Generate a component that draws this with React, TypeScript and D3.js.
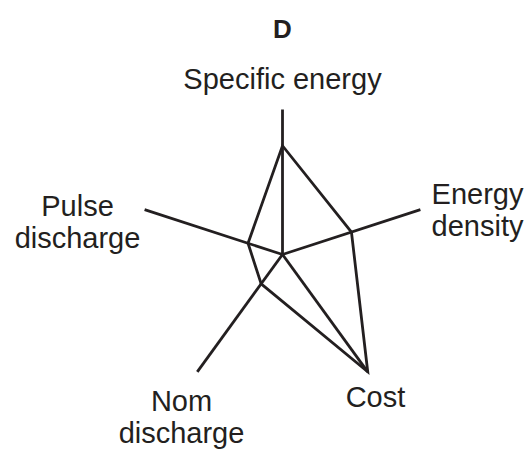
import React from "react";
import * as d3 from "d3";

// axes, clockwise from the top
const axes = ["Specific energy", "Energy density", "Cost", "Nom discharge", "Pulse discharge"];
const values = [0.75, 0.5, 1, 0.25, 0.25];
const maxValue = 1;
const title = "D";

// label lines and where each label block sits relative to the centre
const labelLines = [["Specific energy"], ["Energy", "density"], ["Cost"], ["Nom", "discharge"], ["Pulse", "discharge"]];
const labelOffsets: [number, number][] = [[0, -166], [195, -51], [93, 152], [-101, 156], [-205, -39]];

const width = 530;
const height = 450;
const cx = 282.5;
const cy = 254.5;
const radius = 145;
const ink = "#231f20";
const font = "'Liberation Sans', Arial, Helvetica, sans-serif";

export default function App() {
  const r = d3.scaleLinear().domain([0, maxValue]).range([0, radius]);
  const angle = d3.scaleLinear().domain([0, axes.length]).range([0, 2 * Math.PI]);

  const polar = (i: number, v: number): [number, number] => {
    const a = angle(i);
    return [Math.sin(a) * r(v), -Math.cos(a) * r(v)];
  };

  const shape = d3.lineRadial<number>()
    .angle((d, i) => angle(i))
    .radius(d => r(d))
    .curve(d3.curveLinearClosed);

  return (
    <svg width={width} height={height} style={{ position: "absolute", left: 0, top: 0, background: "#fff" }}>
      <text x={cx} y={38} textAnchor="middle" fontFamily={font} fontWeight="bold" fontSize={26} fill={ink}>{title}</text>
      <g transform={`translate(${cx},${cy})`}>
        {axes.map((name, i) => {
          const [x, y] = polar(i, maxValue);
          return <line key={name} x1={0} y1={0} x2={x} y2={y} stroke={ink} strokeWidth={2.8} strokeLinecap="butt" />;
        })}
        <path d={shape(values) || ""} fill="none" stroke={ink} strokeWidth={2.8} strokeLinejoin="miter" />
        {labelLines.map((lines, i) => (
          <text key={i} x={labelOffsets[i][0]} y={labelOffsets[i][1]} textAnchor="middle" fontFamily={font} fontSize={29} fill={ink}>
            {lines.map((ln, j) => (
              <tspan key={j} x={labelOffsets[i][0]} dy={j === 0 ? 0 : 32}>{ln}</tspan>
            ))}
          </text>
        ))}
      </g>
    </svg>
  );
}
